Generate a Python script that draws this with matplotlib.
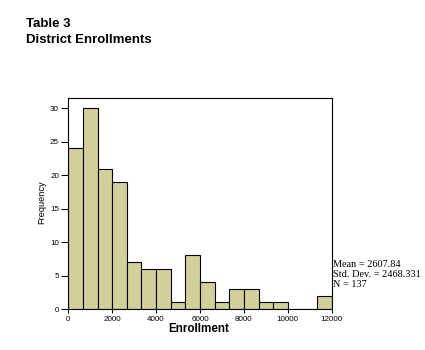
import numpy as np
import matplotlib
matplotlib.use("Agg")
import matplotlib.pyplot as plt

# Histogram of district enrollments: 18 bins of equal width from 0 to 12000
bin_edges = np.linspace(0, 12000, 19)
frequencies = [24, 30, 21, 19, 7, 6, 6, 1, 8, 4, 1, 3, 3, 1, 1, 0, 0, 2]
x_ticks = [0, 2000, 4000, 6000, 8000, 10000, 12000]
y_ticks = [0, 5, 10, 15, 20, 25, 30]
stats_lines = ["Mean = 2607.84", "Std. Dev. = 2468.331", "N = 137"]

W, H = 425, 350
fig = plt.figure(figsize=(W / 100, H / 100), dpi=100)
fig.patch.set_facecolor("white")


def fx(px):
    return px / W


def fy(py):
    return 1 - py / H


ax = fig.add_axes([fx(68.3), fy(309), (331.7 - 68.3) / W, (309 - 98.3) / H])

widths = np.diff(bin_edges)
ax.bar(bin_edges[:-1], frequencies, width=widths, align="edge",
       color="#d3cf9b", edgecolor="black", linewidth=0.8)

ax.set_xlim(0, 12000)
ax.set_ylim(0, 31.5)
ax.set_xticks(x_ticks)
ax.set_yticks(y_ticks)
ax.tick_params(axis="x", direction="out", length=3.2, width=0.75, pad=1.5,
               labelsize=5.8)
ax.tick_params(axis="y", direction="out", length=5.2, width=0.75, pad=1.5,
               labelsize=5.8)
for lab in ax.get_xticklabels() + ax.get_yticklabels():
    lab.set_family("Liberation Sans")
for s in ax.spines.values():
    s.set_linewidth(0.8)

fig.text(fx(41.5), fy(202), "Frequency", fontsize=6.7, rotation=90,
         family="Liberation Sans", ha="center", va="center")
fig.text(fx(199), fy(332), "Enrollment", fontsize=8.4, fontweight="bold",
         family="Liberation Sans", ha="center", va="baseline")

fig.text(fx(25.7), fy(27), "Table 3", fontsize=9.5, fontweight="bold",
         family="Liberation Sans", va="baseline", ha="left")
fig.text(fx(25.7), fy(43), "District Enrollments", fontsize=9.5,
         fontweight="bold", family="Liberation Sans", va="baseline", ha="left")

for i, line in enumerate(stats_lines):
    fig.text(fx(333.3), fy(267 + i * 10), line, fontsize=7.35,
             family="Liberation Serif", va="baseline", ha="left")

fig.savefig("out.png", dpi=100, facecolor="white")
